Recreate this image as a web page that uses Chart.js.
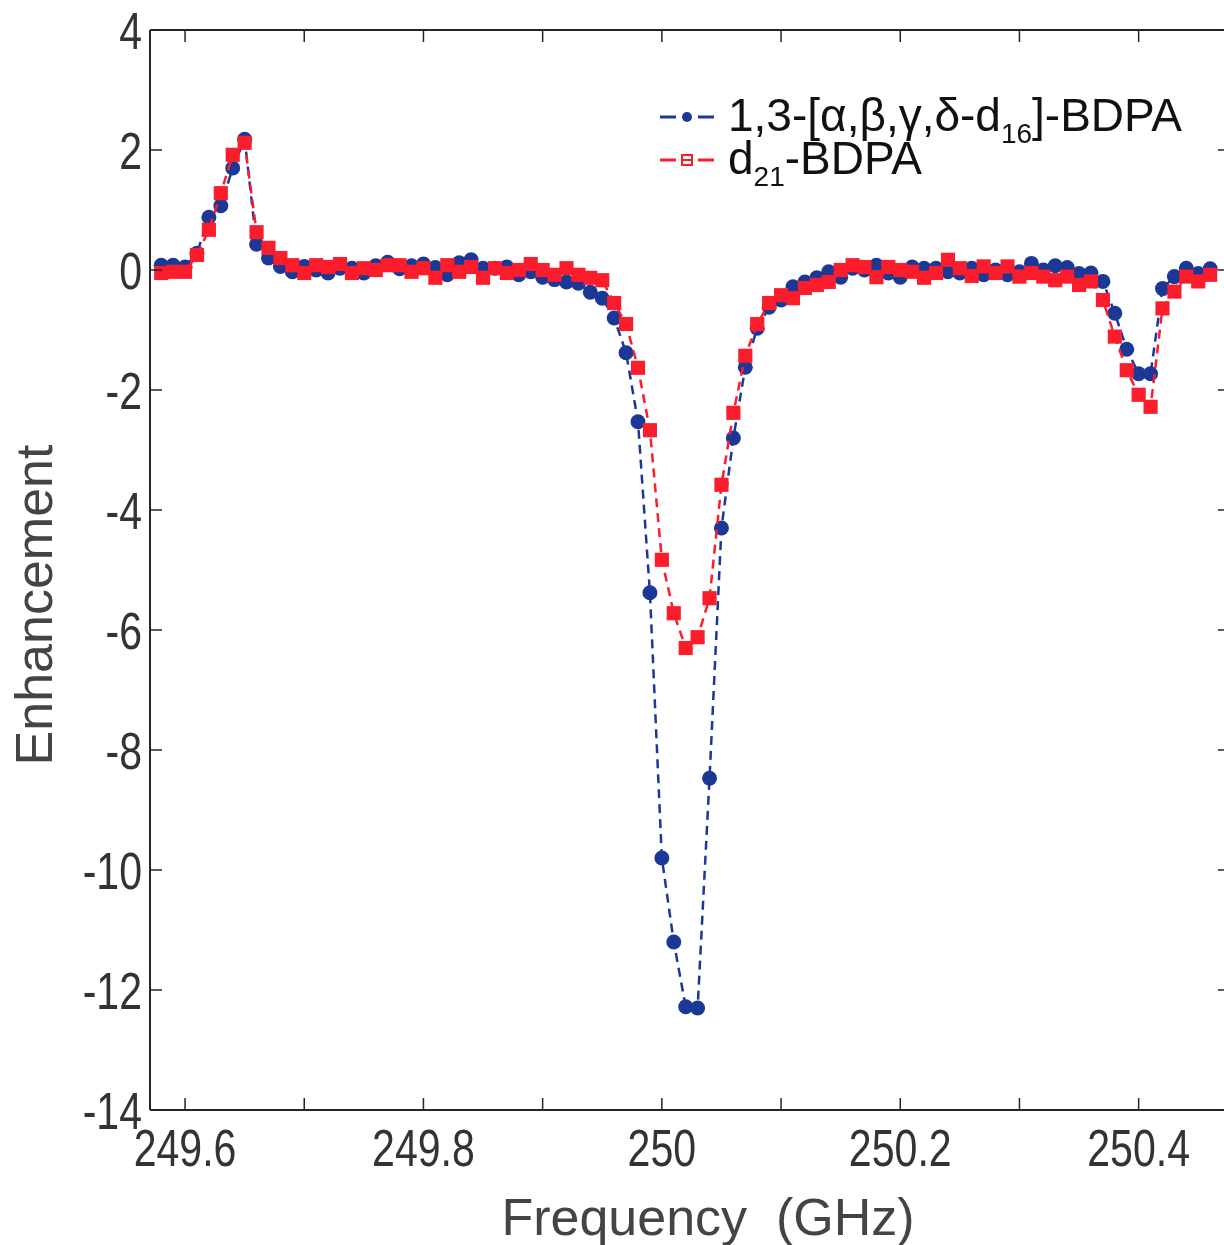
<!DOCTYPE html>
<html>
<head>
<meta charset="utf-8">
<script src="https://cdn.jsdelivr.net/npm/chart.js@4.4.0/dist/chart.umd.min.js"></script>
<style>
  html, body { margin: 0; padding: 0; background: #fff; }
</style>
</head>
<body>
<canvas id="chart" width="1224" height="1245"></canvas>
<script>
// frequency points (GHz), 0.01 GHz steps
const freqs = [
  249.58, 249.59, 249.60, 249.61, 249.62, 249.63, 249.64, 249.65, 249.66, 249.67,
  249.68, 249.69, 249.70, 249.71, 249.72, 249.73, 249.74, 249.75, 249.76, 249.77,
  249.78, 249.79, 249.80, 249.81, 249.82, 249.83, 249.84, 249.85, 249.86, 249.87,
  249.88, 249.89, 249.90, 249.91, 249.92, 249.93, 249.94, 249.95, 249.96, 249.97,
  249.98, 249.99, 250.00, 250.01, 250.02, 250.03, 250.04, 250.05, 250.06, 250.07,
  250.08, 250.09, 250.10, 250.11, 250.12, 250.13, 250.14, 250.15, 250.16, 250.17,
  250.18, 250.19, 250.20, 250.21, 250.22, 250.23, 250.24, 250.25, 250.26, 250.27,
  250.28, 250.29, 250.30, 250.31, 250.32, 250.33, 250.34, 250.35, 250.36, 250.37,
  250.38, 250.39, 250.40, 250.41, 250.42, 250.43, 250.44, 250.45, 250.46
];

// 1,3-[a,b,g,d-d16]-BDPA (blue circles)
const enhD16 = [
  0.08, 0.08, 0.05, 0.28, 0.88, 1.07, 1.70, 2.18, 0.43, 0.20,
  0.06, -0.03, 0.06, 0.00, -0.05, 0.03, 0.03, -0.05, 0.07, 0.13,
  0.02, 0.07, 0.10, 0.04, -0.08, 0.12, 0.17, 0.03, 0.03, 0.05,
  -0.08, -0.03, -0.12, -0.16, -0.20, -0.22, -0.37, -0.47, -0.80, -1.38,
  -2.53, -5.38, -9.80, -11.20, -12.28, -12.30, -8.47, -4.30, -2.80, -1.62,
  -0.97, -0.62, -0.50, -0.28, -0.20, -0.13, -0.03, -0.12, 0.03, 0.00,
  0.08, -0.05, -0.12, 0.05, 0.03, 0.03, -0.03, -0.05, 0.03, -0.08,
  0.00, -0.08, -0.03, 0.11, 0.00, 0.07, 0.04, -0.06, -0.05, -0.19,
  -0.72, -1.32, -1.73, -1.73, -0.31, -0.11, 0.03, -0.06, 0.02
];

// d21-BDPA (red squares)
const enhD21 = [
  -0.05, -0.03, -0.03, 0.25, 0.67, 1.28, 1.92, 2.12, 0.63, 0.37,
  0.20, 0.08, -0.05, 0.08, 0.05, 0.10, -0.05, 0.03, 0.00, 0.08,
  0.08, -0.03, 0.03, -0.13, 0.08, -0.03, 0.05, -0.13, 0.03, -0.05,
  0.00, 0.10, 0.00, -0.08, 0.03, -0.08, -0.13, -0.17, -0.55, -0.90,
  -1.63, -2.67, -4.83, -5.72, -6.30, -6.12, -5.47, -3.58, -2.38, -1.43,
  -0.90, -0.55, -0.42, -0.47, -0.30, -0.25, -0.20, 0.00, 0.08, 0.05,
  -0.12, 0.05, 0.00, -0.03, -0.13, -0.05, 0.17, 0.03, -0.10, 0.06,
  -0.05, 0.06, -0.11, -0.05, -0.11, -0.17, -0.11, -0.25, -0.19, -0.50,
  -1.11, -1.67, -2.08, -2.28, -0.64, -0.36, -0.11, -0.19, -0.08
];

const xTitle = 'Frequency  (GHz)';
const yTitle = 'Enhancement';

const BLUE = '#1b3897';
const RED = '#fb1d2c';
const AXIS = '#262626';
const FONT = '"Liberation Sans", Arial, sans-serif';
// the tick numbers in the original are a tall condensed face, so squeeze them
const TICK_SQUEEZE = 0.79;

const toPoints = ys => freqs.map((f, i) => ({ x: f, y: ys[i] }));

function squeezedText(ctx, text, x, y, align, sx) {
  ctx.save();
  ctx.translate(x, y);
  ctx.scale(sx, 1);
  ctx.textAlign = align;
  ctx.fillText(text, 0, 0);
  ctx.restore();
}

//Frame with inward ticks on all four sides, tick labels, titles and the legend
const framePlugin = {
  id: 'frame',
  afterDatasetsDraw(chart) {
    const { ctx, chartArea: ca, scales } = chart;
    const xs = scales.x, ys = scales.y;
    ctx.save();
    ctx.strokeStyle = AXIS;
    ctx.lineWidth = 2;
    ctx.setLineDash([]);
    ctx.beginPath();
    ctx.moveTo(ca.left, ca.top); ctx.lineTo(ca.right + 10, ca.top);
    ctx.moveTo(ca.left, ca.top); ctx.lineTo(ca.left, ca.bottom);
    ctx.moveTo(ca.left, ca.bottom); ctx.lineTo(ca.right + 10, ca.bottom);
    ctx.stroke();

    ctx.lineWidth = 1.5;
    ctx.beginPath();
    xs.ticks.forEach(t => {
      const px = xs.getPixelForValue(t.value);
      ctx.moveTo(px, ca.bottom); ctx.lineTo(px, ca.bottom - 12);
      ctx.moveTo(px, ca.top); ctx.lineTo(px, ca.top + 12);
    });
    ys.ticks.forEach(t => {
      const py = ys.getPixelForValue(t.value);
      ctx.moveTo(ca.left, py); ctx.lineTo(ca.left + 12, py);
      // right axis sits just past the image edge, only the tick tips show
      ctx.moveTo(ca.right, py); ctx.lineTo(ca.right - 6, py);
    });
    ctx.stroke();

    // tick labels
    ctx.fillStyle = '#333';
    ctx.font = '52px ' + FONT;
    ctx.textBaseline = 'alphabetic';
    xs.ticks.forEach(t => {
      if (!t.label) return;
      squeezedText(ctx, t.label, xs.getPixelForValue(t.value), ca.bottom + 56, 'center', TICK_SQUEEZE);
    });
    ys.ticks.forEach(t => {
      squeezedText(ctx, t.label, ca.left - 8, ys.getPixelForValue(t.value) + 19, 'right', TICK_SQUEEZE);
    });

    // axis titles
    ctx.fillStyle = '#444';
    ctx.font = '52px ' + FONT;
    ctx.textAlign = 'center';
    ctx.fillText(xTitle, 708, ca.bottom + 125);
    ctx.save();
    ctx.translate(52, 605);
    ctx.rotate(-Math.PI / 2);
    ctx.fillText(yTitle, 0, 0);
    ctx.restore();

    // legend
    const rows = [
      { y: 117, color: BLUE, marker: 'dot', main: '1,3-[α,β,γ,δ-d', sub: '16', tail: ']-BDPA' },
      { y: 160, color: RED, marker: 'box', main: 'd', sub: '21', tail: '-BDPA' }
    ];
    rows.forEach(r => {
      ctx.strokeStyle = r.color;
      ctx.fillStyle = r.color;
      ctx.lineWidth = 3;
      ctx.beginPath();
      ctx.moveTo(660, r.y); ctx.lineTo(676, r.y);
      ctx.moveTo(698, r.y); ctx.lineTo(714, r.y);
      ctx.stroke();
      if (r.marker === 'dot') {
        ctx.beginPath();
        ctx.arc(687, r.y, 5, 0, Math.PI * 2);
        ctx.fill();
      } else {
        ctx.lineWidth = 2;
        ctx.strokeRect(682, r.y - 5, 10, 10);
        ctx.beginPath();
        ctx.moveTo(682, r.y); ctx.lineTo(692, r.y);
        ctx.stroke();
      }
      ctx.fillStyle = '#111';
      ctx.textBaseline = 'alphabetic';
      ctx.textAlign = 'left';
      let x = 728;
      const base = r.y + 14;
      ctx.font = '46px ' + FONT;
      ctx.fillText(r.main, x, base);
      x += ctx.measureText(r.main).width;
      ctx.font = '28px ' + FONT;
      ctx.fillText(r.sub, x, base + 12);
      x += ctx.measureText(r.sub).width;
      ctx.font = '46px ' + FONT;
      ctx.fillText(r.tail, x, base);
    });
    ctx.restore();
  }
};

new Chart(document.getElementById('chart').getContext('2d'), {
  type: 'line',
  data: {
    datasets: [
      {
        label: '1,3-[α,β,γ,δ-d16]-BDPA',
        data: toPoints(enhD16),
        borderColor: BLUE,
        backgroundColor: BLUE,
        borderWidth: 2.5,
        borderDash: [9, 6],
        pointStyle: 'circle',
        pointRadius: 7.5,
        pointBorderWidth: 0,
        tension: 0,
        order: 2
      },
      {
        label: 'd21-BDPA',
        data: toPoints(enhD21),
        borderColor: RED,
        backgroundColor: RED,
        borderWidth: 2.5,
        borderDash: [9, 6],
        pointStyle: 'rect',
        pointRadius: 10,
        pointBorderWidth: 0,
        tension: 0,
        order: 1
      }
    ]
  },
  options: {
    responsive: false,
    animation: false,
    layout: { autoPadding: false, padding: { top: 30, right: 0, bottom: 0, left: 0 } },
    plugins: {
      legend: { display: false },
      tooltip: { enabled: false }
    },
    scales: {
      x: {
        type: 'linear',
        min: 249.5706,
        max: 250.4716,
        grid: { display: false },
        border: { display: false },
        ticks: {
          display: false,
          stepSize: 0.1,
          includeBounds: false,
          autoSkip: false,
          callback: v => {
            const k = Math.round(v * 10);
            return k % 2 === 0 ? String(k / 10) : '';
          }
        },
        afterFit: s => { s.height = 135; }
      },
      y: {
        min: -14,
        max: 4,
        grid: { display: false },
        border: { display: false },
        ticks: {
          display: false,
          stepSize: 2,
          callback: v => String(v)
        },
        afterFit: s => { s.width = 150; }
      }
    }
  },
  plugins: [framePlugin]
});
</script>
</body>
</html>
